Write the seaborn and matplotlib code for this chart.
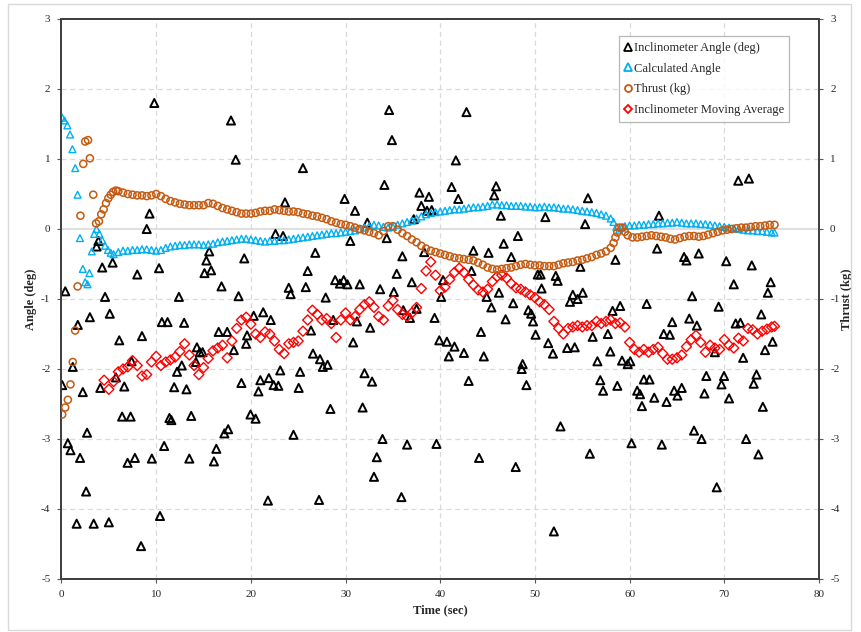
import pandas as pd
import seaborn as sb
from matplotlib import pyplot as plt
from matplotlib.lines import Line2D
from matplotlib.patches import Rectangle

# Inclinometer raw readings (deg)
incl_time = [0.07, 0.4, 0.67, 0.95, 1.19, 1.6, 1.72, 1.96, 2.25, 2.6, 2.7, 3.0, 3.4, 3.7, 3.9, 4.1, 4.3, 4.6,
             5.0, 5.1, 5.4, 5.75, 6.1, 6.4, 6.63, 6.98, 7.3, 7.4, 7.75, 8.0, 8.4, 8.5, 9.0, 9.3, 9.54, 9.8,
             10.3, 10.4, 10.6, 10.84, 11.2, 11.4, 11.6, 11.9, 12.2, 12.4, 12.7, 12.95, 13.2, 13.5, 13.7,
             14.2, 14.3, 14.6, 14.9, 15.1, 15.3, 15.6, 15.8, 16.1, 16.35, 16.6, 16.9, 17.2, 17.5, 17.6,
             17.9, 18.2, 18.4, 18.7, 19.0, 19.3, 19.5, 19.6, 19.96, 20.3, 20.5, 20.8, 21.0, 21.3, 21.8,
             21.9, 22.1, 22.4, 22.6, 22.9, 23.1, 23.4, 23.6, 24.0, 24.2, 24.5, 25.05, 25.2, 25.5, 25.8,
             26.0, 26.35, 26.56, 26.8, 27.2, 27.3, 27.6, 27.9, 28.1, 28.4, 28.7, 28.9, 29.4, 29.8, 29.9,
             30.2, 30.5, 30.8, 31.0, 31.2, 31.5, 31.8, 32.0, 32.3, 32.6, 32.8, 33.0, 33.3, 33.65, 33.9,
             34.1, 34.35, 34.6, 34.9, 35.1, 35.4, 35.9, 36.0, 36.1, 36.5, 36.8, 37.0, 37.2, 37.5, 37.8,
             38.0, 38.3, 38.6, 38.8, 39.1, 39.4, 39.6, 39.9, 40.1, 40.3, 40.7, 40.9, 41.2, 41.5, 41.65,
             41.9, 42.5, 42.77, 43.0, 43.3, 43.5, 44.1, 44.3, 44.6, 44.9, 45.1, 45.4, 45.7, 45.9, 46.2,
             46.4, 46.7, 46.9, 47.5, 47.7, 47.97, 48.2, 48.6, 48.7, 49.1, 49.3, 49.6, 49.8, 50.07, 50.3,
             50.6, 50.7, 51.1, 51.4, 51.9, 52.0, 52.2, 52.4, 52.7, 53.4, 53.7, 54.0, 54.2, 54.5, 54.8,
             55.05, 55.3, 55.6, 55.8, 56.1, 56.6, 56.9, 57.2, 57.7, 57.96, 58.2, 58.5, 58.7, 59.0, 59.2,
             59.8, 60.07, 60.2, 60.8, 61.1, 61.3, 61.5, 61.8, 62.1, 62.6, 62.9, 63.1, 63.4, 63.6, 63.9,
             64.25, 64.5, 64.7, 65.05, 65.5, 65.75, 66.0, 66.3, 66.6, 66.8, 67.1, 67.3, 67.6, 67.9, 68.1,
             69.0, 69.2, 69.4, 69.7, 69.97, 70.2, 70.5, 71.0, 71.2, 71.47, 71.7, 71.99, 72.3, 72.6, 72.9,
             73.1, 73.4, 73.6, 73.9, 74.07, 74.3, 74.6, 74.9, 75.1]
incl_angle = [-2.23, -0.89, -3.06, -3.16, -1.97, -4.21, -1.37, -3.27, -2.33, -3.75, -2.91, -1.26, -4.21, -0.25,
              -0.17, -2.27, -0.55, -0.97, -4.19, -1.21, -0.48, -2.12, -1.59, -2.68, -2.25, -3.34, -2.68, -1.89,
              -3.27, -0.65, -4.53, -1.53, 0.0, 0.22, -3.28, 1.80, -0.56, -4.10, -1.33, -3.10, -1.33, -2.70,
              -2.73, -2.26, -2.04, -0.97, -1.95, -1.34, -2.29, -3.28, -2.67, -1.90, -1.69, -1.76, -1.76, -0.63,
              -0.45, -0.32, -0.59, -3.32, -3.14, -1.47, -0.82, -2.92, -1.47, -2.86, 1.55, -1.73, 0.99, -0.96,
              -2.20, -0.42, -1.64, -1.52, -2.65, -1.24, -2.71, -2.32, -2.16, -1.19, -3.88, -2.13, -1.30, -2.23,
              -0.07, -2.24, -2.02, -0.10, 0.38, -0.84, -0.93, -2.94, -2.27, -2.04, 0.87, -0.83, -0.60, -1.45,
              -1.78, -0.34, -3.87, -1.86, -1.97, -0.98, -1.94, -2.57, -1.30, -0.73, -0.78, -0.73, 0.43, -0.79,
              -0.17, -1.62, 0.26, -1.32, -0.79, -2.55, -2.06, 0.09, -1.41, -2.18, -3.54, -3.26, -0.86, -3.00,
              0.63, -0.13, 1.70, 1.27, -0.90, -0.64, -3.83, -0.39, -1.16, -3.08, -1.27, -0.76, 0.14, -1.14,
              0.52, 0.33, -0.33, 0.26, 0.46, 0.27, -1.27, -3.07, -1.59, -0.97, -0.73, -1.61, -1.82, 0.60,
              -1.68, 0.98, 0.43, -1.77, 1.67, -2.17, -0.60, -0.31, -3.27, -1.47, -1.82, -0.97, -0.34, -1.12,
              0.48, 0.61, -0.91, 0.19, -0.21, -1.29, -0.40, -1.06, -3.40, -0.10, -2.00, -1.93, -2.23, -1.16,
              -1.21, -1.32, -1.51, -0.65, -0.65, -0.85, 0.17, -1.63, -1.78, -4.32, -0.67, -0.74, -2.82, -1.70,
              -1.04, -0.94, -1.69, -1.00, -0.54, -0.91, 0.07, 0.44, -3.21, -1.54, -1.89, -2.16, -2.31, -1.50,
              -1.75, -1.17, -0.44, -2.24, -1.10, -1.88, -1.93, -1.89, -3.06, -2.31, -2.36, -2.53, -2.15, -1.07,
              -2.15, -2.41, -0.28, 0.19, -3.08, -1.50, -2.47, -1.51, -1.33, -2.31, -2.38, -2.27, -0.40, -0.45,
              -1.28, -0.96, -2.88, -1.38, -0.35, -3.00, -2.35, -2.10, -1.76, -3.69, -1.11, -2.22, -2.10, -0.46,
              -2.42, -0.79, -1.35, 0.69, -1.34, -1.84, -3.00, 0.72, -0.52, -2.21, -2.08, -3.22, -1.22, -2.54,
              -1.73, -0.91, -0.76, -1.61]

# Calculated angle (deg)
calc_time = [0.07, 0.32, 0.62, 0.9, 1.15, 1.45, 1.7, 1.95, 2.25, 2.5, 2.75, 2.95, 3.2, 3.45, 3.7, 4.0, 4.3,
             4.6, 4.9, 5.2, 5.5, 6.0, 6.5, 7.0, 7.5, 8.0, 8.5, 9.0, 9.5, 10.0, 10.5, 11.0, 11.5, 12.0, 12.5,
             13.0, 13.5, 14.0, 14.5, 15.0, 15.5, 16.0, 16.5, 17.0, 17.5, 18.0, 18.5, 19.0, 19.5, 20.0, 20.5,
             21.0, 21.5, 22.0, 22.5, 23.0, 23.5, 24.0, 24.5, 25.0, 25.5, 26.0, 26.5, 27.0, 27.5, 28.0, 28.5,
             29.0, 29.5, 30.0, 30.5, 31.0, 31.5, 32.0, 32.5, 33.0, 33.5, 34.0, 34.5, 35.0, 35.5, 36.0, 36.5,
             37.0, 37.5, 38.0, 38.5, 39.0, 39.5, 40.0, 40.5, 41.0, 41.5, 42.0, 42.5, 43.0, 43.5, 44.0, 44.5,
             45.0, 45.5, 46.0, 46.5, 47.0, 47.5, 48.0, 48.5, 49.0, 49.5, 50.0, 50.5, 51.0, 51.5, 52.0, 52.5,
             53.0, 53.5, 54.0, 54.5, 55.0, 55.5, 56.0, 56.5, 57.0, 57.5, 58.0, 58.3, 58.6, 58.9, 59.2, 59.5,
             60.0, 60.5, 61.0, 61.5, 62.0, 62.5, 63.0, 63.5, 64.0, 64.5, 65.0, 65.5, 66.0, 66.5, 67.0, 67.5,
             68.0, 68.5, 69.0, 69.5, 70.0, 70.5, 71.0, 71.5, 72.0, 72.5, 73.0, 73.5, 74.0, 74.5, 75.0, 75.3]
calc_angle = [1.59, 1.55, 1.48, 1.35, 1.14, 0.87, 0.49, -0.13, -0.57, -0.76, -0.79, -0.63, -0.32, -0.07, 0.0,
              -0.07, -0.16, -0.24, -0.30, -0.34, -0.36, -0.33, -0.31, -0.31, -0.30, -0.30, -0.29, -0.29, -0.30,
              -0.31, -0.30, -0.27, -0.25, -0.24, -0.23, -0.23, -0.22, -0.22, -0.22, -0.23, -0.22, -0.21, -0.19,
              -0.18, -0.17, -0.16, -0.15, -0.14, -0.14, -0.15, -0.16, -0.17, -0.18, -0.17, -0.17, -0.16, -0.16,
              -0.15, -0.14, -0.13, -0.12, -0.11, -0.10, -0.09, -0.08, -0.07, -0.06, -0.06, -0.05, -0.04, -0.03,
              -0.02, 0.0, 0.02, 0.04, 0.06, 0.05, 0.03, 0.02, 0.03, 0.06, 0.08, 0.10, 0.12, 0.15, 0.18, 0.21,
              0.23, 0.24, 0.25, 0.26, 0.27, 0.28, 0.28, 0.29, 0.30, 0.31, 0.31, 0.32, 0.33, 0.35, 0.35, 0.34,
              0.34, 0.33, 0.33, 0.33, 0.32, 0.32, 0.31, 0.31, 0.32, 0.31, 0.31, 0.30, 0.29, 0.29, 0.28, 0.27,
              0.26, 0.25, 0.24, 0.23, 0.21, 0.19, 0.15, 0.10, 0.03, -0.01, 0.02, 0.04, 0.05, 0.05, 0.06, 0.06,
              0.07, 0.07, 0.08, 0.08, 0.09, 0.09, 0.10, 0.09, 0.08, 0.08, 0.08, 0.07, 0.07, 0.06, 0.05, 0.04,
              0.03, 0.02, 0.01, 0.0, -0.01, -0.02, -0.02, -0.03, -0.03, -0.04, -0.05, -0.05]

# Thrust (kg), secondary axis
thrust_time = [0.07, 0.39, 0.67, 0.95, 1.19, 1.44, 1.7, 2.0, 2.3, 2.5, 2.8, 3.0, 3.35, 3.65, 3.95, 4.2, 4.45,
               4.7, 4.95, 5.2, 5.45, 5.75, 6.0, 6.5, 7.0, 7.5, 8.0, 8.5, 9.0, 9.5, 10.0, 10.5, 11.0, 11.5,
               12.0, 12.5, 13.0, 13.5, 14.0, 14.5, 15.0, 15.5, 16.0, 16.5, 17.0, 17.5, 18.0, 18.5, 19.0, 19.5,
               20.0, 20.5, 21.0, 21.5, 22.0, 22.5, 23.0, 23.5, 24.0, 24.5, 25.0, 25.5, 26.0, 26.5, 27.0, 27.5,
               28.0, 28.5, 29.0, 29.5, 30.0, 30.5, 31.0, 31.5, 32.0, 32.5, 33.0, 33.5, 34.0, 34.5, 35.0, 35.5,
               36.0, 36.5, 37.0, 37.5, 38.0, 38.5, 39.0, 39.5, 40.0, 40.5, 41.0, 41.5, 42.0, 42.5, 43.0, 43.5,
               44.0, 44.5, 45.0, 45.5, 46.0, 46.5, 47.0, 47.5, 48.0, 48.5, 49.0, 49.5, 50.0, 50.5, 51.0, 51.5,
               52.0, 52.5, 53.0, 53.5, 54.0, 54.5, 55.0, 55.5, 56.0, 56.5, 57.0, 57.5, 58.0, 58.3, 58.5, 58.7,
               58.9, 59.2, 59.5, 59.8, 60.3, 60.8, 61.3, 61.8, 62.3, 62.8, 63.3, 63.8, 64.3, 64.8, 65.3, 65.8,
               66.3, 66.8, 67.3, 67.8, 68.3, 68.8, 69.3, 69.8, 70.3, 70.8, 71.3, 71.8, 72.3, 72.8, 73.3, 73.8,
               74.3, 74.8, 75.3]
thrust_kg = [-2.65, -2.55, -2.44, -2.22, -1.90, -1.45, -0.82, 0.19, 0.93, 1.25, 1.27, 1.01, 0.49, 0.08, 0.11,
             0.21, 0.28, 0.37, 0.44, 0.49, 0.53, 0.55, 0.54, 0.52, 0.50, 0.49, 0.48, 0.48, 0.47, 0.48, 0.50,
             0.47, 0.43, 0.40, 0.38, 0.36, 0.35, 0.34, 0.34, 0.34, 0.34, 0.37, 0.36, 0.33, 0.30, 0.28, 0.26,
             0.24, 0.22, 0.22, 0.22, 0.23, 0.25, 0.26, 0.26, 0.28, 0.27, 0.26, 0.25, 0.25, 0.24, 0.22, 0.21,
             0.19, 0.18, 0.16, 0.14, 0.11, 0.09, 0.07, 0.06, 0.04, 0.02, 0.0, -0.02, -0.04, -0.06, -0.09,
             -0.03, 0.04, 0.04, -0.01, -0.06, -0.10, -0.15, -0.19, -0.24, -0.28, -0.31, -0.33, -0.35, -0.37,
             -0.39, -0.41, -0.42, -0.43, -0.44, -0.45, -0.48, -0.51, -0.55, -0.57, -0.58, -0.57, -0.56, -0.55,
             -0.53, -0.51, -0.50, -0.51, -0.52, -0.52, -0.53, -0.53, -0.53, -0.51, -0.49, -0.48, -0.47, -0.45,
             -0.44, -0.42, -0.40, -0.37, -0.35, -0.32, -0.27, -0.20, -0.12, -0.05, 0.02, 0.02, -0.04, -0.09,
             -0.12, -0.12, -0.11, -0.10, -0.09, -0.10, -0.11, -0.12, -0.14, -0.15, -0.13, -0.11, -0.10, -0.10,
             -0.11, -0.10, -0.08, -0.06, -0.04, -0.02, -0.01, 0.0, 0.01, 0.02, 0.02, 0.03, 0.04, 0.04, 0.05,
             0.06, 0.06]

# Inclinometer moving average (deg)
avg_time = [4.5, 5.0, 5.5, 6.0, 6.5, 7.0, 7.5, 8.0, 8.5, 9.0, 9.5, 10.0, 10.5, 11.0, 11.5, 12.0, 12.5, 13.0,
            13.5, 14.0, 14.5, 15.0, 15.5, 16.0, 16.5, 17.0, 17.5, 18.0, 18.5, 19.0, 19.5, 20.0, 20.5, 21.0,
            21.5, 22.0, 22.5, 23.0, 23.5, 24.0, 24.5, 25.0, 25.5, 26.0, 26.5, 27.0, 27.5, 28.0, 28.5, 29.0,
            29.5, 30.0, 30.5, 31.0, 31.5, 32.0, 32.5, 33.0, 33.5, 34.0, 34.5, 35.0, 35.5, 36.0, 36.5, 37.0,
            37.5, 38.0, 38.5, 39.0, 39.5, 40.0, 40.5, 41.0, 41.5, 42.0, 42.5, 43.0, 43.5, 44.0, 44.5, 45.0,
            45.5, 46.0, 46.5, 47.0, 47.5, 48.0, 48.5, 49.0, 49.5, 50.0, 50.5, 51.0, 51.5, 52.0, 52.5, 53.0,
            53.5, 54.0, 54.5, 55.0, 55.5, 56.0, 56.5, 57.0, 57.5, 58.0, 58.5, 59.0, 59.5, 60.0, 60.5, 61.0,
            61.5, 62.0, 62.5, 63.0, 63.5, 64.0, 64.5, 65.0, 65.5, 66.0, 66.5, 67.0, 67.5, 68.0, 68.5, 69.0,
            69.5, 70.0, 70.5, 71.0, 71.5, 72.0, 72.5, 73.0, 73.5, 74.0, 74.5, 75.0, 75.3]
avg_angle = [-2.16, -2.29, -2.18, -2.04, -2.00, -1.97, -1.88, -1.95, -2.10, -2.08, -1.90, -1.82, -1.95, -1.90,
             -1.87, -1.83, -1.75, -1.64, -1.80, -1.95, -2.08, -1.98, -1.85, -1.74, -1.70, -1.66, -1.84, -1.60,
             -1.42, -1.30, -1.26, -1.36, -1.50, -1.55, -1.47, -1.50, -1.60, -1.72, -1.78, -1.64, -1.62, -1.60,
             -1.46, -1.30, -1.16, -1.22, -1.30, -1.28, -1.35, -1.55, -1.30, -1.20, -1.30, -1.25, -1.15, -1.08,
             -1.04, -1.12, -1.25, -1.30, -1.10, -1.02, -1.15, -1.22, -1.25, -1.20, -1.12, -0.85, -0.60, -0.47,
             -0.66, -0.88, -0.83, -0.72, -0.62, -0.56, -0.62, -0.72, -0.80, -0.87, -0.90, -0.86, -0.75, -0.68,
             -0.66, -0.70, -0.78, -0.84, -0.86, -0.90, -0.94, -0.98, -1.04, -1.08, -1.15, -1.32, -1.42, -1.50,
             -1.42, -1.40, -1.38, -1.40, -1.38, -1.38, -1.32, -1.35, -1.32, -1.30, -1.35, -1.34, -1.40, -1.62,
             -1.72, -1.76, -1.72, -1.76, -1.72, -1.69, -1.78, -1.86, -1.86, -1.84, -1.80, -1.68, -1.58, -1.52,
             -1.62, -1.76, -1.66, -1.70, -1.72, -1.58, -1.66, -1.70, -1.56, -1.60, -1.42, -1.44, -1.50, -1.46,
             -1.43, -1.40, -1.39]

incl = pd.DataFrame({"Time": incl_time, "Angle": incl_angle})
calc = pd.DataFrame({"Time": calc_time, "Angle": calc_angle})
thrust = pd.DataFrame({"Time": thrust_time, "Thrust": thrust_kg})
avg = pd.DataFrame({"Time": avg_time, "Angle": avg_angle})

BLACK = "#000000"
BLUE = "#00B0F0"
ORANGE = "#C55A11"
RED = "#FF0000"

sb.set_style("white")
plt.rcParams["font.family"] = ["Liberation Serif", "DejaVu Serif"]
plt.rcParams["axes.unicode_minus"] = False

fig = plt.figure(figsize=(8.62, 6.32), dpi=100)
ax = fig.add_axes([61.5 / 862, 1 - 579 / 632, (819 - 61.5) / 862, 560 / 632])

# Light outer frame around the whole chart
fig.patches.append(Rectangle((8 / 862, 2 / 632), 843 / 862, 626 / 632, transform=fig.transFigure,
                             fill=False, edgecolor="#d9d9d9", linewidth=1.0))

# Gridlines and zero line
for xv in range(10, 80, 10):
    ax.axvline(xv, color="#d9d9d9", linestyle=(0, (4, 3)), linewidth=0.9, zorder=0)
for yv in [-4, -3, -2, -1, 1, 2]:
    ax.axhline(yv, color="#d9d9d9", linestyle=(0, (4, 3)), linewidth=0.9, zorder=0)
ax.axhline(0, color="#d9d9d9", linewidth=1.2, zorder=0)

# Primary axis series
sb.scatterplot(data=incl, x="Time", y="Angle", ax=ax, marker="^", s=34, color=BLACK,
               facecolor="none", edgecolor=BLACK, linewidth=1.4, zorder=3)
sb.scatterplot(data=calc, x="Time", y="Angle", ax=ax, marker="^", s=24, color=BLUE,
               facecolor="none", edgecolor=BLUE, linewidth=1.0, zorder=4)
sb.scatterplot(data=avg, x="Time", y="Angle", ax=ax, marker="D", s=26, color=RED,
               facecolor="none", edgecolor=RED, linewidth=1.0, zorder=5)

ax.set_xlim(0, 80)
ax.set_ylim(-5, 3)
ax.set_xticks(range(0, 81, 10))
ax.set_yticks(range(-5, 4))
ax.set_xlabel("Time (sec)", fontsize=9, fontweight="bold", labelpad=4)
ax.set_ylabel("Angle (deg)", fontsize=9, fontweight="bold", labelpad=3)
ax.tick_params(axis="both", labelsize=8, direction="out", length=3, width=0.8, color="#595959",
               left=True, bottom=True, pad=5)
for sp in ax.spines.values():
    sp.set_color("#404040")
    sp.set_linewidth(1.3)

# Secondary axis for thrust
ax2 = ax.twinx()
sb.scatterplot(data=thrust, x="Time", y="Thrust", ax=ax2, marker="o", s=26, color=ORANGE,
               facecolor="none", edgecolor=ORANGE, linewidth=1.1, zorder=6)
ax2.set_ylim(-5, 3)
ax2.set_yticks(range(-5, 4))
ax2.set_ylabel("Thrust (kg)", fontsize=9, fontweight="bold", rotation=90, labelpad=1)
ax2.tick_params(axis="y", labelsize=8, direction="out", length=3, width=0.8, color="#595959",
                right=True, pad=5)
ax2.grid(False)
for sp in ax2.spines.values():
    sp.set_color("#404040")
    sp.set_linewidth(1.3)

# Legend
handles = [
    Line2D([], [], linestyle="none", marker="^", markersize=5.5, markerfacecolor="none",
           markeredgecolor=BLACK, markeredgewidth=1.3),
    Line2D([], [], linestyle="none", marker="^", markersize=5.5, markerfacecolor="none",
           markeredgecolor=BLUE, markeredgewidth=1.3),
    Line2D([], [], linestyle="none", marker="o", markersize=5, markerfacecolor="none",
           markeredgecolor=ORANGE, markeredgewidth=1.3),
    Line2D([], [], linestyle="none", marker="D", markersize=4.5, markerfacecolor="none",
           markeredgecolor=RED, markeredgewidth=1.3),
]
labels = ["Inclinometer Angle (deg)", "Calculated Angle", "Thrust (kg)", "Inclinometer Moving Average"]
leg = ax2.legend(handles, labels, loc="upper right", bbox_to_anchor=(0.961, 0.969), borderaxespad=0,
                 fontsize=9, frameon=True, fancybox=False, handlelength=0.6, handletextpad=0.15,
                 labelspacing=0.7, borderpad=0.45)
leg.get_frame().set_edgecolor("#a6a6a6")
leg.get_frame().set_linewidth(0.9)
leg.set_zorder(20)

fig.savefig("out.png", dpi=100)
